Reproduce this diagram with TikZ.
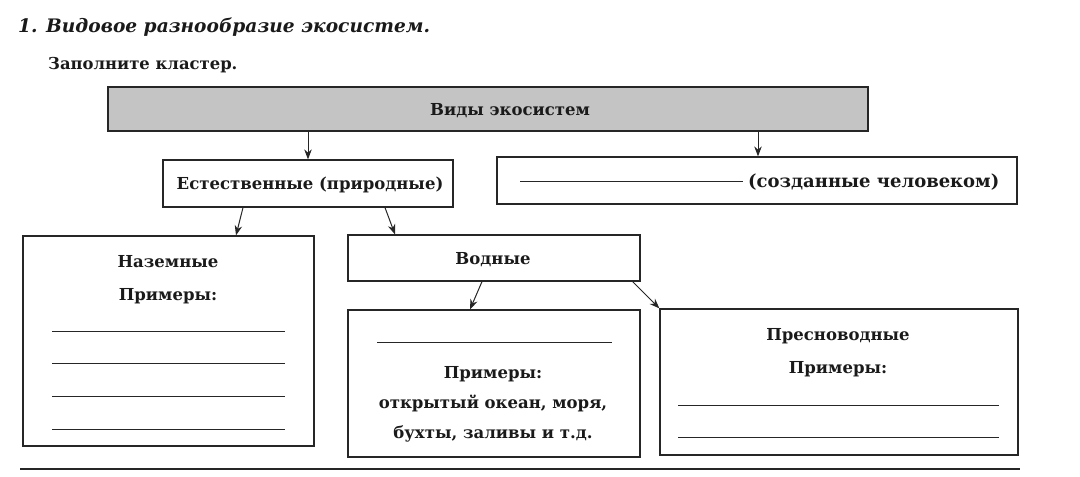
\documentclass[tikz,border=0pt]{standalone}
\usepackage{fontspec}
\setmainfont{DejaVu Serif}
\usetikzlibrary{arrows.meta}
\definecolor{ink}{HTML}{262626}
\definecolor{txt}{HTML}{1A1A1A}
\definecolor{boxgray}{HTML}{C4C4C4}
\tikzset{
  box/.style={draw=ink, line width=1.2pt, rectangle, inner sep=0pt},
  lbl/.style={text=txt, font=\bfseries\fontsize{16.5}{18}\selectfont, inner sep=0pt, anchor=base},
  conn/.style={draw=ink, line width=1pt, -{Stealth[length=10pt,width=7.5pt]}},
  rule/.style={draw=ink, line width=0.9pt}
}
\begin{document}
\begin{tikzpicture}[x=1pt,y=-1pt]
\useasboundingbox (0,0) rectangle (1080,477);
% headings
\node[text=txt, font=\bfseries\itshape\fontsize{18.6}{21}\selectfont, anchor=base west, inner sep=0pt] (title) at (18,32) {1. Видовое разнообразие экосистем.};
\node[text=txt, font=\bfseries\fontsize{16.4}{19}\selectfont, anchor=base west, inner sep=0pt] (task) at (48,69) {Заполните кластер.};
% boxes
\node[box, fill=boxgray, minimum width=760pt, minimum height=44pt] (top) at (488,109) {};
\node[lbl] (topl) at (510,115) {Виды экосистем};
\node[box, minimum width=520pt, minimum height=47pt] (man) at (757,180.5) {};
\node[lbl, anchor=base west, font=\bfseries\fontsize{18}{20}\selectfont] (manl) at (748,187) {(созданные человеком)};
\coordinate (mu1) at (520,181); \coordinate (mu2) at (743,181);
\draw[rule] (mu1) -- (mu2);
\node[box, minimum width=290pt, minimum height=47pt] (nat) at (308,183.5) {};
\node[lbl] (natl) at (310,189) {Естественные (природные)};
\node[box, minimum width=291pt, minimum height=210pt] (land) at (168.5,341) {};
\node[lbl] (landl) at (168,267) {Наземные};
\node[lbl] (landp) at (168,300) {Примеры:};
\foreach \yy [count=\i] in {331,363,396,429}{
  \coordinate (la\i) at (52,\yy); \coordinate (lb\i) at (285,\yy);
  \draw[rule] (la\i) -- (lb\i);
}
\node[box, minimum width=292pt, minimum height=46pt] (water) at (494,258) {};
\node[lbl] (waterl) at (493,264) {Водные};
\node[box, minimum width=292pt, minimum height=147pt] (sea) at (494,383.5) {};
\coordinate (su1) at (377,342); \coordinate (su2) at (612,342);
\draw[rule] (su1) -- (su2);
\node[lbl] (seap) at (493,378) {Примеры:};
\node[lbl] (sea1) at (493,408) {открытый океан, моря,};
\node[lbl] (sea2) at (493,438) {бухты, заливы и т.д.};
\node[box, minimum width=358pt, minimum height=146pt] (fresh) at (839,382) {};
\node[lbl] (freshl) at (838,340) {Пресноводные};
\node[lbl] (freshp) at (838,373) {Примеры:};
\foreach \yy [count=\i] in {405,437}{
  \coordinate (fa\i) at (678,\yy); \coordinate (fb\i) at (999,\yy);
  \draw[rule] (fa\i) -- (fb\i);
}
% connectors
\draw[conn] (top.south -| nat.north) -- (nat.north);
\coordinate (t2) at (758,0);
\draw[conn] (top.south -| t2) -- (man.north -| t2);
\draw[conn] ([xshift=-65pt]nat.south) -- ([xshift=67.5pt]land.north);
\draw[conn] ([xshift=77pt]nat.south) -- ([xshift=-99pt]water.north);
\draw[conn] ([xshift=-12pt]water.south) -- ([xshift=-24pt]sea.north);
\draw[conn] ([xshift=-8pt]water.south east) -- (fresh.north west);
% bottom rule
\coordinate (br1) at (20,469); \coordinate (br2) at (1020,469);
\draw[rule, line width=1.2pt] (br1) -- (br2);
\end{tikzpicture}
\end{document}
